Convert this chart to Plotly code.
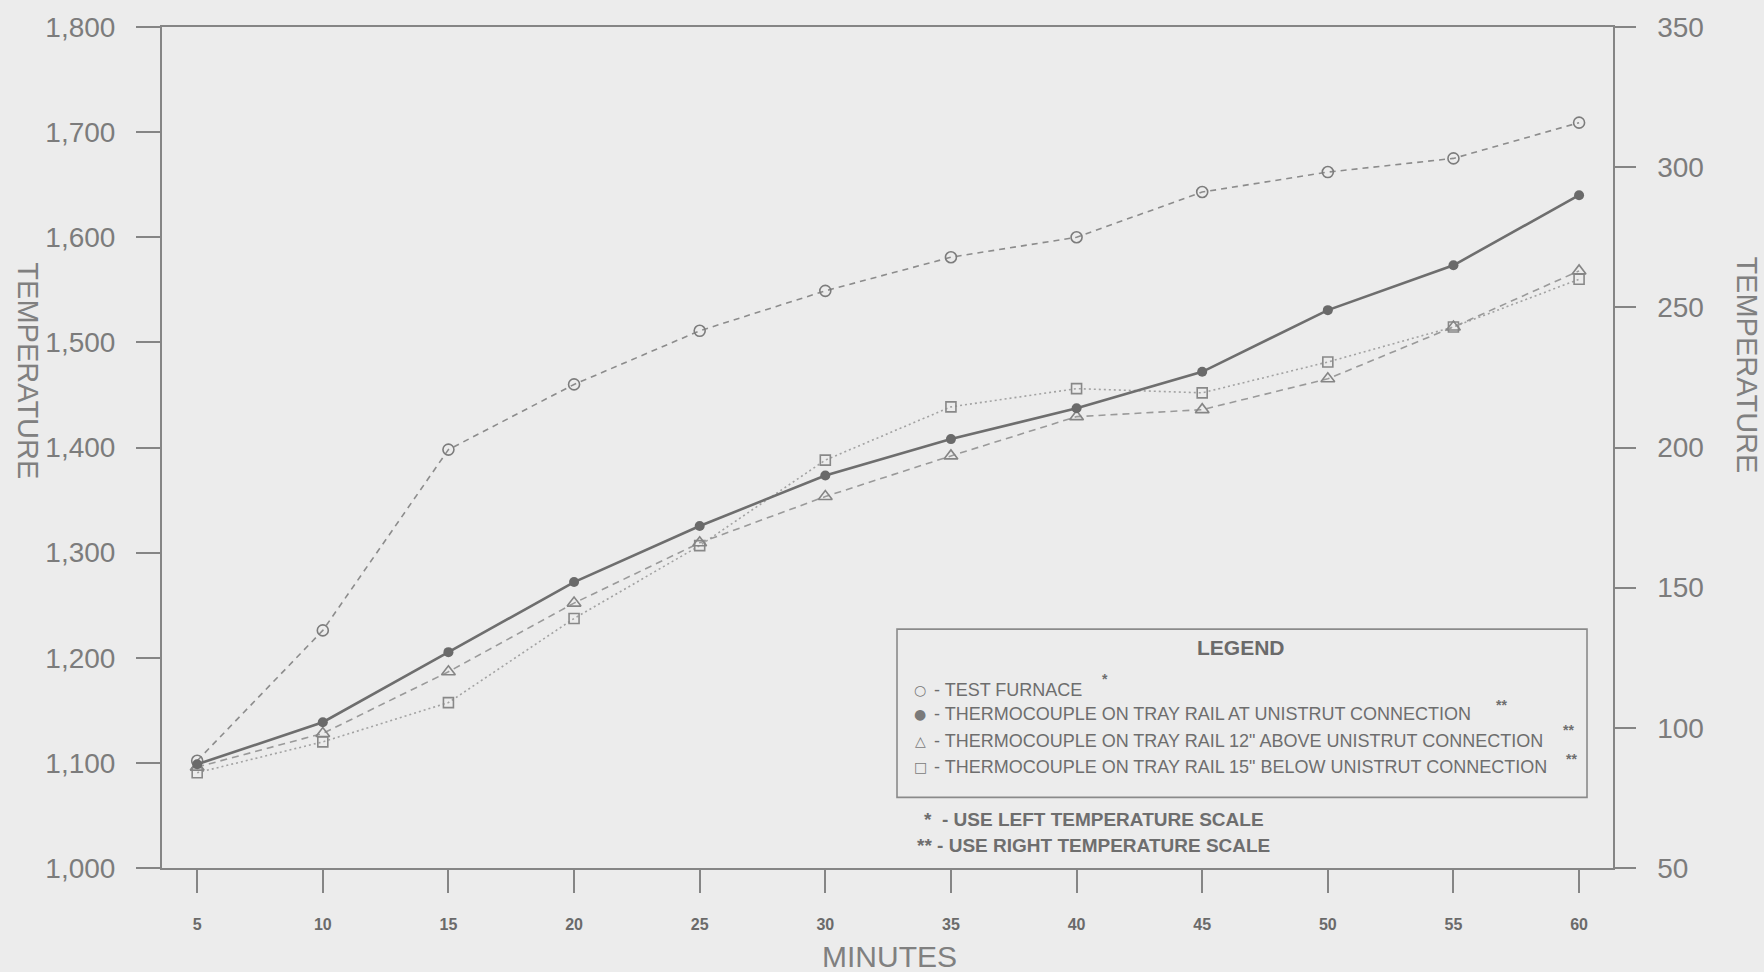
import plotly.graph_objects as go

# ---- data ----
minutes = [5, 10, 15, 20, 25, 30, 35, 40, 45, 50, 55, 60]
test_furnace = [1102, 1226, 1398, 1460, 1511, 1549, 1581, 1600, 1643, 1662, 1675, 1709]   # left scale
rail_at_connection = [87, 102, 127, 152, 172, 190, 203, 214, 227, 249, 265, 290]          # right scale
rail_12_above = [86, 98, 120, 144.5, 166, 182.5, 197, 211, 213.5, 224.5, 243, 263]       # right scale
rail_15_below = [84, 95, 109, 139, 165, 195.5, 214.5, 221, 219.5, 230.5, 243, 260]       # right scale

left_ticks = [1000, 1100, 1200, 1300, 1400, 1500, 1600, 1700, 1800]
right_ticks = [50, 100, 150, 200, 250, 300, 350]

legend_items = [
    ("○", "- TEST FURNACE", "*"),
    ("●", "- THERMOCOUPLE ON TRAY RAIL AT UNISTRUT CONNECTION", "**"),
    ("△", "- THERMOCOUPLE ON TRAY RAIL 12\" ABOVE UNISTRUT CONNECTION", "**"),
    ("□", "- THERMOCOUPLE ON TRAY RAIL 15\" BELOW UNISTRUT CONNECTION", "**"),
]
scale_notes = ["*  - USE LEFT TEMPERATURE SCALE", "** - USE RIGHT TEMPERATURE SCALE"]

# ---- layout geometry (pixels) ----
W, H = 1764, 972
L, R, T, B = 162, 1613, 23, 868
BG = "#ececec"
AX = "#858585"
FONT = "Liberation Sans, Arial, sans-serif"
NB = "\u00a0"


def px(x):
    return (x - L) / (R - L)


def py(y):
    return (B - y) / (B - T)


fig = go.Figure()

fig.add_trace(go.Scatter(
    x=minutes, y=test_furnace, yaxis="y", mode="lines+markers",
    line=dict(color="#8c8c8c", width=1.6, dash="6px,5px"),
    marker=dict(symbol="circle-open", size=11, color="#7c7c7c", line=dict(width=1.6)),
    name="TEST FURNACE", showlegend=False))

fig.add_trace(go.Scatter(
    x=minutes, y=rail_15_below, yaxis="y2", mode="lines+markers",
    line=dict(color="#a2a2a2", width=1.6, dash="2px,3px"),
    marker=dict(symbol="square-open", size=10, color="#888888", line=dict(width=1.6)),
    name="15 BELOW", showlegend=False))

fig.add_trace(go.Scatter(
    x=minutes, y=rail_12_above, yaxis="y2", mode="lines+markers",
    line=dict(color="#9a9a9a", width=1.6, dash="7px,5px"),
    marker=dict(symbol="triangle-up-open", size=12, color="#858585", line=dict(width=1.6)),
    name="12 ABOVE", showlegend=False))

fig.add_trace(go.Scatter(
    x=minutes, y=rail_at_connection, yaxis="y2", mode="lines+markers",
    line=dict(color="#6e6e6e", width=2.6),
    marker=dict(symbol="circle", size=10, color="#6a6a6a"),
    name="AT CONNECTION", showlegend=False))

annotations = []


def ann(text, x, y, size, color="#6e6e6e", xanchor="center", family=FONT, angle=0):
    annotations.append(dict(text=text, x=px(x), y=py(y), xref="paper", yref="paper",
                            showarrow=False, xanchor=xanchor, yanchor="middle",
                            textangle=angle, font=dict(family=family, size=size, color=color)))


# axis titles
ann("TEMPERATURE", 28, 368, 29, "#808080", angle=90)
ann("TEMPERATURE", 1747, 362, 29, "#808080", angle=90)
ann("MINUTES", 889, 957, 30, "#808080")

# legend
ann("<b>LEGEND</b>", 1241, 646, 21, "#6a6a6a")
rows_y = [689, 713, 740, 767]
star_pos = [(1100, 678), (1494, 704), (1561, 729), (1564, 758)]
for (sym, txt, star), yy, (sx, sy) in zip(legend_items, rows_y, star_pos):
    ann(sym, 920, yy, 14, "#7a7a7a", family="DejaVu Sans, sans-serif")
    ann(txt, 932, yy, 18, "#6e6e6e", xanchor="left")
    ann("<b>" + star + "</b>", sx, sy, 14, "#6e6e6e", xanchor="left")
for note, yy, xx in zip(scale_notes, [819, 845], [922, 915]):
    ann("<b>" + note + "</b>", xx, yy, 19, "#6e6e6e", xanchor="left")

fig.update_layout(
    width=W, height=H,
    margin=dict(l=L, r=W - R, t=T, b=H - B),
    paper_bgcolor=BG, plot_bgcolor=BG,
    showlegend=False,
    annotations=annotations,
    shapes=[dict(type="rect", xref="paper", yref="paper",
                 x0=px(897), x1=px(1587), y0=py(797), y1=py(628),
                 line=dict(color="#8a8a8a", width=1.6), fillcolor="rgba(0,0,0,0)")],
    xaxis=dict(range=[3.6, 61.35], tickvals=minutes, ticktext=[str(m) for m in minutes],
               showgrid=False, zeroline=False, showline=True, linecolor=AX, linewidth=2,
               mirror=True, ticks="outside", ticklen=23, tickwidth=1.5, tickcolor=AX,
               ticklabelstandoff=18,
               tickfont=dict(family=FONT, size=16, color="#6a6a6a", weight="bold")),
    yaxis=dict(range=[1000, 1800], tickvals=left_ticks, tickformat=",",
               showgrid=False, zeroline=False, showline=True, linecolor=AX, linewidth=2,
               ticks="outside", ticklen=24, tickwidth=1.5, tickcolor=AX,
               ticklabelstandoff=15,
               tickfont=dict(family=FONT, size=28, color="#7c7c7c")),
    yaxis2=dict(range=[50, 350], tickvals=right_ticks,
                ticktext=[NB * 2 + str(v) for v in right_ticks],
                overlaying="y", side="right",
                showgrid=False, zeroline=False, showline=True, linecolor=AX, linewidth=2,
                ticks="outside", ticklen=21, tickwidth=1.5, tickcolor=AX,
                tickfont=dict(family=FONT, size=28, color="#7c7c7c")),
)

fig.write_html("out.html", config={"displayModeBar": False},
               post_script="document.body.style.margin='0px';")
